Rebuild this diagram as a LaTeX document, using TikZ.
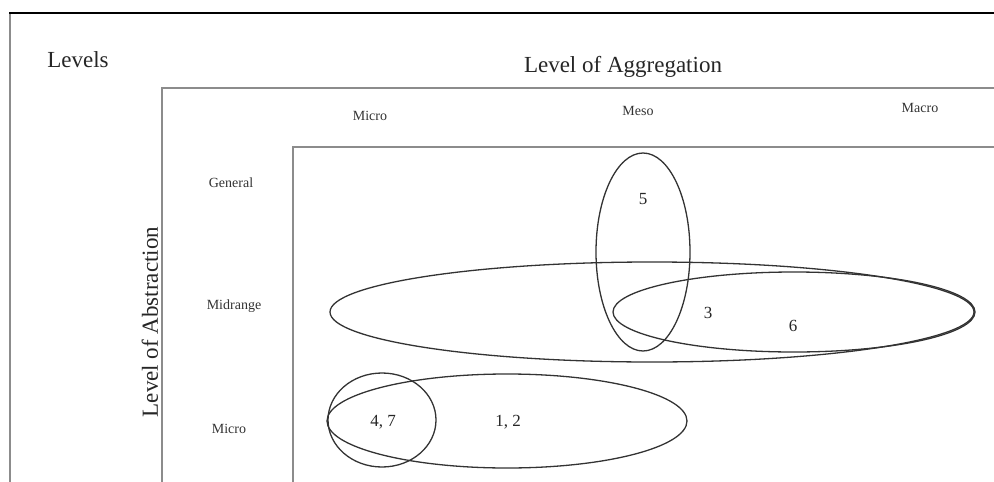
\documentclass[tikz,border=0pt]{standalone}
\usepackage{fontspec}
\setmainfont{Liberation Serif}
\begin{document}
\begin{tikzpicture}[x=1pt,y=-1pt,
  frame/.style={line width=2pt,draw=black!45},
  ell/.style={line width=1.3pt,draw=black!80},
  big/.style={font=\fontsize{23}{25}\selectfont,text=black!85,inner sep=0pt},
  small/.style={font=\fontsize{14}{16}\selectfont,text=black!80,inner sep=0pt},
  num/.style={font=\fontsize{17}{19}\selectfont,text=black!85,inner sep=0pt}]
\useasboundingbox (0,0) rectangle (994,482);
\fill[white] (0,0) rectangle (994,482);
% frames
\draw[frame] (10,482) -- (10,13);
\draw[line width=2pt,black] (9,13) -- (994,13);
\draw[frame] (162,482) -- (162,88) -- (994,88);
\draw[frame] (293,482) -- (293,147) -- (994,147);
% ellipses
\draw[ell] (643,252) ellipse [x radius=47, y radius=99];
\draw[ell] (652,312) ellipse [x radius=322, y radius=50];
\draw[ell] (794,312) ellipse [x radius=181, y radius=40];
\draw[ell] (507,421) ellipse [x radius=180, y radius=47];
\draw[ell] (382,420) ellipse [x radius=54, y radius=47];
% labels
\node[big] (levels) at (78,60) {Levels};
\node[big] (agg) at (623,67) {Level of Aggregation};
\node[big,rotate=90] (abs) at (150,322) {Level of Abstraction};
\node[small] (mic) at (370,116) {Micro};
\node[small] (mes) at (638,111) {Meso};
\node[small] (mac) at (920,108) {Macro};
\node[small] (gen) at (231,183) {General};
\node[small] (mid) at (234,306) {Midrange};
\node[small] (micr) at (229,429) {Micro};
\node[num] (n5) at (643,199) {5};
\node[num] (n3) at (708,313) {3};
\node[num] (n6) at (793,326) {6};
\node[num] (n47) at (383,422) {4, 7};
\node[num] (n12) at (508,422) {1, 2};
\end{tikzpicture}
\end{document}
